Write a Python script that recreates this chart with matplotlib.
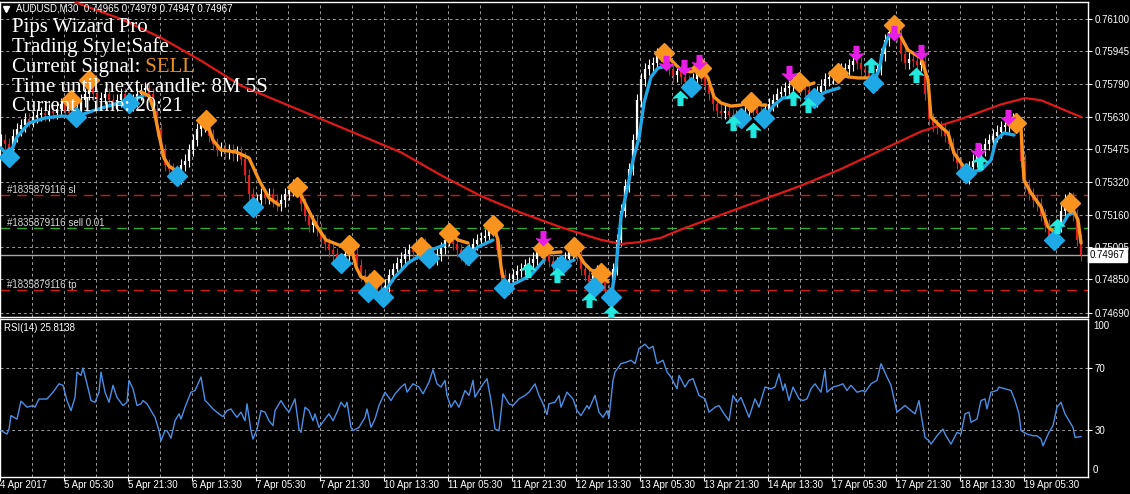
import numpy as np
import matplotlib.pyplot as plt
from matplotlib.path import Path
from matplotlib.transforms import blended_transform_factory

plt.rcParams['font.family'] = ['Liberation Sans', 'DejaVu Sans']

# ---------------- data ----------------
# AUDUSD M30 closes, one value every 2 bars starting 4 Apr 13:30
close = [
    0.7552, 0.7550, 0.7546, 0.7554, 0.7557, 0.7559, 0.7562, 0.7561, 0.7563, 0.7564,
    0.7565, 0.7564, 0.7566, 0.7565, 0.7567, 0.7569, 0.7566, 0.7565, 0.7563, 0.7566,
    0.7571, 0.7574, 0.7577, 0.7574, 0.7571, 0.7572, 0.7574, 0.7571, 0.7569, 0.7571,
    0.7574, 0.7571, 0.7569, 0.7571, 0.7574, 0.7576, 0.7577, 0.7574, 0.7566, 0.7557,
    0.7547, 0.7540, 0.7538, 0.7537, 0.7534, 0.7540, 0.7542, 0.7547, 0.7552, 0.7557,
    0.7559, 0.7561, 0.7554, 0.7550, 0.7547, 0.7548, 0.7546, 0.7547, 0.7545, 0.7546,
    0.7543, 0.7535, 0.7526, 0.7521, 0.7523, 0.7526, 0.7524, 0.7526, 0.7523, 0.7521,
    0.7523, 0.7526, 0.7528, 0.7530, 0.7528, 0.7521, 0.7516, 0.7511, 0.7513, 0.7509,
    0.7504, 0.7502, 0.7499, 0.7497, 0.7494, 0.7493, 0.7497, 0.7500, 0.7497, 0.7492,
    0.7487, 0.7485, 0.7482, 0.7484, 0.7480, 0.7479, 0.7482, 0.7487, 0.7490, 0.7493,
    0.7495, 0.7497, 0.7499, 0.7498, 0.7499, 0.7502, 0.7499, 0.7497, 0.7495, 0.7497,
    0.7500, 0.7504, 0.7506, 0.7502, 0.7499, 0.7497, 0.7495, 0.7499, 0.7502, 0.7504,
    0.7505, 0.7506, 0.7509, 0.7510, 0.7499, 0.7487, 0.7481, 0.7485, 0.7487, 0.7489,
    0.7490, 0.7492, 0.7493, 0.7495, 0.7499, 0.7500, 0.7497, 0.7494, 0.7492, 0.7493,
    0.7492, 0.7495, 0.7498, 0.7500, 0.7497, 0.7490, 0.7487, 0.7484, 0.7487, 0.7489,
    0.7485, 0.7480, 0.7476, 0.7490, 0.7504, 0.7518, 0.7530, 0.7538, 0.7552, 0.7571,
    0.7581, 0.7586, 0.7588, 0.7589, 0.7593, 0.7594, 0.7590, 0.7586, 0.7583, 0.7585,
    0.7582, 0.7580, 0.7577, 0.7581, 0.7586, 0.7583, 0.7578, 0.7574, 0.7569, 0.7566,
    0.7565, 0.7566, 0.7564, 0.7563, 0.7561, 0.7563, 0.7566, 0.7569, 0.7567, 0.7565,
    0.7563, 0.7566, 0.7569, 0.7571, 0.7574, 0.7575, 0.7577, 0.7578, 0.7580, 0.7581,
    0.7578, 0.7576, 0.7574, 0.7571, 0.7575, 0.7578, 0.7581, 0.7582, 0.7583, 0.7585,
    0.7586, 0.7586, 0.7588, 0.7590, 0.7589, 0.7586, 0.7585, 0.7582, 0.7579, 0.7586,
    0.7593, 0.7600, 0.7604, 0.7607, 0.7602, 0.7593, 0.7589, 0.7591, 0.7590, 0.7588,
    0.7590, 0.7574, 0.7562, 0.7559, 0.7558, 0.7557, 0.7554, 0.7550, 0.7545, 0.7541,
    0.7538, 0.7534, 0.7539, 0.7542, 0.7545, 0.7547, 0.7550, 0.7552, 0.7554, 0.7556,
    0.7558, 0.7559, 0.7561, 0.7562, 0.7559, 0.7542, 0.7530, 0.7526, 0.7523, 0.7521,
    0.7516, 0.7511, 0.7506, 0.7504, 0.7511, 0.7518, 0.7523, 0.7524, 0.7516, 0.7504,
    0.74967,
]

# moving average (red)
ma_bars = [20, 40, 60, 80, 100, 120, 140, 160, 180, 200, 220, 240, 260, 280, 300,
           310, 320, 330, 340, 360, 380, 400, 420, 440, 460, 480, 500, 512, 520, 540]
ma_vals = [0.7626, 0.7617, 0.7610, 0.7601, 0.7590, 0.7578, 0.7570, 0.7562, 0.7554,
           0.7546, 0.7535, 0.7525, 0.7517, 0.7510, 0.7504, 0.7502, 0.7503, 0.7505,
           0.7509, 0.7516, 0.7523, 0.7530, 0.7538, 0.7547, 0.7556, 0.7562, 0.7569,
           0.7572, 0.7571, 0.7563]

# trend lines (bar, price)
blue_segs = [
    [(0, 0.75481), (4, 0.75438), (8, 0.75534), (14, 0.75601), (22, 0.75625), (30, 0.75634),
     (37, 0.75630), (47, 0.75663), (57, 0.75692), (65, 0.75711), (71, 0.75730)],
    [(191, 0.74766), (193.5, 0.74814), (196.5, 0.74857), (203.5, 0.74929), (208.5, 0.74958),
     (215, 0.74991), (221.5, 0.75015)],
    [(233.5, 0.74967), (238.5, 0.75006), (246, 0.75039)],
    [(251.5, 0.74809), (258.5, 0.74838), (265, 0.74871), (271.5, 0.74943)],
    [(280, 0.74919), (286.5, 0.74943)],
    [(305, 0.74766), (307.5, 0.74910), (310, 0.75150), (313, 0.75279), (316, 0.75423),
     (319, 0.75529), (321.5, 0.75697), (325, 0.75822), (328.5, 0.75865), (331, 0.75870)],
    [(381.5, 0.75625), (386.5, 0.75687), (391, 0.75721), (397.5, 0.75726)],
    [(406.5, 0.75721), (412.5, 0.75750), (419, 0.75769)],
    [(436, 0.75793), (439, 0.75855), (441, 0.75951), (443.5, 0.76014), (446.5, 0.76033)],
    [(482.5, 0.75361), (490, 0.75375), (495, 0.75423), (497.5, 0.75519), (501.5, 0.75553),
     (506.5, 0.75543)],
    [(526.5, 0.75039), (530, 0.75102), (533.5, 0.75159), (536, 0.75169)],
]
orange_segs = [
    [(70, 0.75750), (74, 0.75730), (76.5, 0.75663), (79, 0.75543), (81.5, 0.75433),
     (84, 0.75394), (87, 0.75375)],
    [(102.5, 0.75615), (106, 0.75519), (110, 0.75471), (117.5, 0.75462), (124, 0.75433),
     (129, 0.75327), (134, 0.75241), (139, 0.75207)],
    [(148, 0.75294), (152.5, 0.75207), (157.5, 0.75111), (162.5, 0.75039), (169, 0.75015),
     (173.5, 0.75015)],
    [(175, 0.75015), (177.5, 0.74910), (180, 0.74862), (185, 0.74847)],
    [(224, 0.75073), (228.5, 0.75039), (233.5, 0.75025)],
    [(246, 0.75111), (248.5, 0.75039), (250, 0.74910), (251, 0.74862)],
    [(271, 0.75001), (273.5, 0.74977), (280, 0.74982)],
    [(286.5, 0.75006), (291.5, 0.74929), (295, 0.74895), (298.5, 0.74886), (303.5, 0.74838)],
    [(331.5, 0.75937), (336.5, 0.75889), (340, 0.75855), (345, 0.75846), (350, 0.75865),
     (353.5, 0.75817), (356.5, 0.75726), (360, 0.75697), (365, 0.75682), (370, 0.75687),
     (375, 0.75702), (380, 0.75687), (382.5, 0.75687)],
    [(399, 0.75798), (403.5, 0.75783), (406.5, 0.75793)],
    [(418.5, 0.75841), (423.5, 0.75822), (428.5, 0.75817), (435, 0.75817)],
    [(446.5, 0.76071), (450, 0.76014), (453.5, 0.75951), (460, 0.75913), (463.5, 0.75807),
     (465, 0.75630), (470, 0.75582), (473.5, 0.75553), (476.5, 0.75457), (480, 0.75409),
     (482.5, 0.75375)],
    [(507.5, 0.75601), (510, 0.75582), (511.5, 0.75327), (515, 0.75265), (520, 0.75198),
     (523.5, 0.75102), (526.5, 0.75078)],
    [(534.5, 0.75217), (538.5, 0.75135), (540, 0.75025)],
]

orange_dia_bars = [35, 44, 102.5, 148, 174, 186.5, 210, 224, 246, 271, 286.5, 300,
                   331.5, 350, 375, 399, 418.5, 446.5, 507.5, 534.5]
orange_dia_vals = [0.75711, 0.75807, 0.75615, 0.75294, 0.75015, 0.74847, 0.75006, 0.75073,
                   0.75111, 0.75001, 0.75006, 0.74881, 0.75937, 0.75865, 0.75702, 0.75798,
                   0.75841, 0.76071, 0.75601, 0.75217]
blue_dia_bars = [4, 37.5, 64, 88, 126, 170, 183.5, 191, 214, 233.5, 251.5, 280, 296.5,
                 305, 345, 370, 381.5, 406.5, 436, 482.5, 526.5]
blue_dia_vals = [0.75438, 0.75630, 0.75697, 0.75346, 0.75198, 0.74929, 0.74790, 0.74766,
                 0.74953, 0.74967, 0.74809, 0.74919, 0.74814, 0.74766, 0.75774, 0.75625,
                 0.75625, 0.75721, 0.75793, 0.75361, 0.75039]

sell_arrow_bars = [271, 332.5, 341.5, 349, 394, 427.5, 446.5, 460, 488.5, 503.5]
sell_arrow_vals = [0.75049, 0.75889, 0.75870, 0.75894, 0.75841, 0.75937, 0.76033, 0.75942,
                   0.75471, 0.75630]
buy_arrow_bars = [263.5, 278, 294, 305, 339.5, 366, 376, 396, 403.5, 435, 457.5, 489.5, 528]
buy_arrow_vals = [0.74895, 0.74871, 0.74751, 0.74689, 0.75721, 0.75601, 0.75567, 0.75721,
                  0.75687, 0.75879, 0.75831, 0.75414, 0.75106]

# RSI(14)
rsi_bars = [0, 3, 4, 5, 8, 10, 13, 16, 17, 19, 23, 26, 29, 31, 33, 35, 37, 38, 40, 41,
            43, 45, 47, 49, 50, 52, 54, 56, 58, 61, 63, 64, 66, 68, 70, 71, 73, 75, 77, 79,
            80, 82, 83, 85, 87, 89, 90, 92, 95, 97, 100, 102, 103, 106, 109, 111, 113, 115, 116, 118,
            120, 122, 123, 125, 126, 128, 130, 132, 134, 136, 137, 140, 142, 144, 147, 149, 150, 152, 154, 156,
            157, 159, 162, 164, 166, 168, 170, 172, 173, 175, 176, 179, 182, 183, 185, 187, 189, 192, 195, 197,
            200, 202, 203, 206, 209, 211, 214, 216, 218, 220, 222, 223, 225, 227, 229, 232, 234, 236, 237, 240,
            243, 245, 247, 249, 251, 254, 256, 259, 262, 264, 267, 269, 271, 273, 274, 277, 279, 280, 283, 286,
            288, 290, 293, 294, 297, 299, 301, 303, 304, 306, 307, 310, 313, 315, 317, 319, 322, 324, 326, 328,
            331, 333, 335, 338, 339, 342, 344, 346, 349, 352, 354, 357, 359, 361, 364, 366, 368, 370, 372, 374,
            377, 379, 382, 385, 387, 389, 391, 392, 394, 396, 399, 401, 403, 405, 407, 410, 412, 413, 416, 419,
            421, 423, 425, 428, 431, 432, 435, 438, 440, 443, 445, 448, 452, 454, 457, 459, 460, 462, 464, 465,
            468, 471, 472, 475, 478, 480, 482, 484, 485, 488, 490, 492, 493, 495, 498, 499, 502, 505, 507, 509,
            510, 513, 516, 518, 520, 521, 524, 526, 528, 530, 532, 533, 536, 537, 540]
rsi_vals = [29.6, 27.4, 30.6, 39.3, 37.0, 48.6, 44.7, 45.8, 44.7, 50.0, 50.0, 54.4, 59.8, 58.8, 49.0, 42.5, 51.0, 67.4, 65.2, 70.0,
            59.8, 49.0, 47.9, 54.4, 67.4, 54.4, 47.9, 58.8, 51.0, 45.8, 47.9, 62.0, 56.6, 45.8, 46.9, 49.0, 46.9, 42.5, 38.2, 29.6,
            23.1, 29.6, 29.6, 24.8, 36.0, 40.4, 37.1, 44.7, 54.4, 55.5, 64.2, 49.0, 47.9, 43.6, 40.4, 38.6, 42.5, 43.6, 41.5, 38.2,
            41.5, 36.0, 46.9, 29.6, 24.2, 30.6, 42.5, 41.5, 36.0, 32.8, 42.5, 49.0, 44.7, 41.5, 50.1, 30.6, 28.5, 44.7, 42.5, 36.0,
            40.4, 31.7, 37.1, 40.4, 36.0, 41.5, 47.9, 44.7, 47.9, 31.7, 29.6, 31.7, 38.2, 43.6, 31.7, 37.1, 45.8, 54.4, 49.0, 53.3,
            57.7, 59.8, 54.4, 59.8, 57.7, 53.3, 60.9, 68.9, 59.8, 57.7, 62.0, 52.3, 44.7, 49.0, 44.7, 55.5, 52.3, 62.0, 51.2, 57.7,
            63.1, 49.0, 30.6, 29.6, 53.3, 46.9, 45.8, 50.1, 52.3, 54.4, 59.8, 52.3, 46.9, 40.0, 46.9, 47.9, 52.3, 44.7, 54.4, 50.0,
            42.5, 39.3, 45.8, 43.6, 52.3, 41.5, 38.2, 42.5, 37.8, 62.0, 67.4, 72.8, 73.9, 75.0, 72.8, 82.5, 85.4, 82.5, 84.0, 72.8,
            75.0, 67.4, 64.2, 56.6, 65.2, 57.7, 62.0, 63.1, 52.3, 50.1, 41.5, 44.7, 45.8, 41.5, 36.0, 52.3, 47.9, 51.0, 44.7, 38.2,
            50.1, 44.7, 57.7, 56.6, 57.7, 66.3, 55.5, 59.8, 49.0, 57.7, 50.1, 49.0, 50.1, 56.6, 59.8, 54.4, 68.5, 54.4, 57.7, 58.8,
            59.8, 55.5, 58.8, 54.4, 55.5, 54.4, 59.8, 62.0, 72.8, 64.2, 58.8, 41.5, 45.8, 43.6, 40.4, 49.0, 40.4, 25.2, 23.1, 20.9,
            26.3, 30.6, 27.4, 20.9, 28.5, 27.4, 40.4, 41.5, 35.0, 37.1, 49.0, 50.1, 43.6, 54.4, 55.5, 57.7, 56.6, 55.5, 49.0, 40.4,
            29.6, 27.4, 26.3, 26.3, 24.2, 19.8, 28.5, 32.8, 44.7, 47.9, 40.4, 38.2, 31.7, 25.2, 25.8]

price_ticks = [0.76100, 0.75945, 0.75790, 0.75630, 0.75475, 0.75320, 0.75160, 0.75005,
               0.74850, 0.74690]
x_label_bars = [0, 32, 64, 96, 128, 160, 192, 224, 256, 288, 320, 352, 384, 416, 448, 480, 512]
x_label_text = ['4 Apr 2017', '5 Apr 05:30', '5 Apr 21:30', '6 Apr 13:30', '7 Apr 05:30',
                '7 Apr 21:30', '10 Apr 13:30', '11 Apr 05:30', '11 Apr 21:30', '12 Apr 13:30',
                '13 Apr 05:30', '13 Apr 21:30', '14 Apr 13:30', '17 Apr 05:30', '17 Apr 21:30',
                '18 Apr 13:30', '19 Apr 05:30']

bid = 0.74967
sl_price, entry_price, tp_price = 0.75255, 0.75097, 0.74800
order_id = '#1835879116'

# ---------------- styling ----------------
BULL = '#ffffff'
BEAR = '#dc2020'
ORANGE = '#f7931e'
BLUE = '#1fa8e6'
GRIDC = '#9a9a9a'
SERIF = ['Liberation Serif', 'DejaVu Serif']

fig = plt.figure(figsize=(11.3, 4.94), dpi=100, facecolor='black')
W, H = 1130.0, 494.0
ax = fig.add_axes([0, 1 - 317 / H, 1088 / W, 315 / H], facecolor='black')
ax2 = fig.add_axes([0, 1 - 477 / H, 1088 / W, 158 / H], facecolor='black')

xlim = (-0.5, 543.5)
for a in (ax, ax2):
    a.set_xlim(*xlim)
    for s in a.spines.values():
        s.set_color('white')
        s.set_linewidth(1)
    for gx in np.arange(15.5, 543, 16):
        a.axvline(gx, color=GRIDC, lw=0.7, ls=(0, (3, 3)), zorder=0)

ax.set_ylim(0.746696, 0.761816)

# horizontal grid at price labels
for p in price_ticks:
    ax.axhline(p, color=GRIDC, lw=0.7, ls=(0, (3, 3)), zorder=0)

# candles (every 2 bars)
bars = np.arange(len(close)) * 2
wick = 0.0003
for i, c in enumerate(close):
    o = close[i - 1] if i > 0 else c
    col = BULL if c >= o else BEAR
    lo, hi = min(o, c), max(o, c)
    ax.vlines(bars[i], lo - wick, hi + wick, color=col, lw=0.8, zorder=2)
    ax.vlines(bars[i], lo, max(hi, lo + 0.00004), color=col, lw=1.6, zorder=2)

# order lines
ax.axhline(sl_price, color='#d01818', lw=1, ls=(0, (7, 5)), zorder=1)
ax.axhline(entry_price, color='#2fa82f', lw=1, ls=(0, (7, 5)), zorder=1)
ax.axhline(tp_price, color='#d01818', lw=1, ls=(0, (7, 5)), zorder=1)
ax.axhline(bid, color='#a8a8a8', lw=1, zorder=1)
tb = blended_transform_factory(ax.transAxes, ax.transData)
for txt, p in [(order_id + ' sl', sl_price), (order_id + ' sell 0.01', entry_price),
               (order_id + ' tp', tp_price)]:
    ax.text(7 / 1088, p, txt, transform=tb, fontsize=7, color='#d8d8d8', va='bottom',
            ha='left', zorder=6)

# moving average
ax.plot(ma_bars, ma_vals, color='#e01818', lw=1.6, zorder=3)

# trend lines
for seg in blue_segs:
    xs, ys = zip(*seg)
    ax.plot(xs, ys, color=BLUE, lw=2.4, solid_capstyle='round', zorder=4)
for seg in orange_segs:
    xs, ys = zip(*seg)
    ax.plot(xs, ys, color=ORANGE, lw=2.4, solid_capstyle='round', zorder=4)

ax.plot(orange_dia_bars, orange_dia_vals, 'D', color=ORANGE, ms=10.5, mec=ORANGE, zorder=5)
ax.plot(blue_dia_bars, blue_dia_vals, 'D', color=BLUE, ms=10.5, mec=BLUE, zorder=5)

up = Path([(0, 0.5), (0.5, 0.02), (0.17, 0.1), (0.17, -0.5), (-0.17, -0.5),
           (-0.17, 0.1), (-0.5, 0.02), (0, 0.5)],
          [Path.MOVETO] + [Path.LINETO] * 6 + [Path.CLOSEPOLY])
down = Path(up.vertices * [1, -1], up.codes)
ax.plot(buy_arrow_bars, buy_arrow_vals, ls='none', marker=up, ms=10, color='#22e8e0',
        mec='#22e8e0', zorder=6)
ax.plot(sell_arrow_bars, sell_arrow_vals, ls='none', marker=down, ms=10, color='#e61ee6',
        mec='#e61ee6', zorder=6)

# price axis
ax.yaxis.tick_right()
ax.set_yticks(price_ticks)
ax.set_yticklabels(['%.5f' % p for p in price_ticks])
ax.tick_params(axis='y', colors='white', labelsize=7, length=3, pad=2)
ax.tick_params(axis='x', bottom=False, labelbottom=False)
ax.text(1 + 2 / 1088, bid, '%.5f' % bid, transform=tb, fontsize=7, color='black',
        va='center', ha='left', zorder=10, clip_on=False,
        bbox=dict(boxstyle='square,pad=0.2', fc='white', ec='white'))

# header and indicator info
ax.plot([6 / 1088], [0.978], marker='v', ms=4, color='white', transform=ax.transAxes,
        clip_on=False, zorder=8)
ax.text(16 / 1088, 0.978, 'AUDUSD,M30  0.74965 0.74979 0.74947 0.74967', transform=ax.transAxes,
        fontsize=7, color='white', va='center', ha='left', zorder=8)
info = ['Pips Wizard Pro', 'Trading Style:Safe', 'Current Signal:',
        'Time until next candle: 8M 5S', 'Current Time: 20:21']
info_base = [31.7, 51.7, 71.7, 91.7, 111.0]
for txt, yb in zip(info, info_base):
    t = ax.text(11.7 / 1088, 1 - (yb - 2) / 315, txt, transform=ax.transAxes,
                family=SERIF, fontsize=15, color='white', va='baseline', ha='left', zorder=9)
    if txt.startswith('Current Signal'):
        ax.annotate(' SELL', xy=(1, 0), xycoords=t, family=SERIF, fontsize=15,
                    color='#e8921e', va='bottom', ha='left', zorder=9)

# ---------------- RSI ----------------
ax2.set_ylim(-0.3, 101.6)
for lv in (70, 30):
    ax2.axhline(lv, color=GRIDC, lw=0.7, ls=(0, (3, 3)), zorder=0)
ax2.plot(rsi_bars, rsi_vals, color='#4a8fe6', lw=1, zorder=3)
ax2.yaxis.tick_right()
ax2.set_yticks([70, 30])
ax2.set_yticklabels(['70', '30'])
ax2.tick_params(axis='y', colors='white', labelsize=7, length=3, pad=2)
tb2 = blended_transform_factory(ax2.transAxes, ax2.transData)
ax2.text(1 + 5 / 1088, 97.1, '100', transform=tb2, fontsize=7, color='white', va='center')
ax2.text(1 + 5 / 1088, 4.2, '0', transform=tb2, fontsize=7, color='white', va='center')
ax2.text(4 / 1088, 0.943, 'RSI(14) 25.8138', transform=ax2.transAxes, fontsize=7,
         color='white', va='center', ha='left')

ax2.set_xticks([b - 0.5 for b in x_label_bars])
ax2.set_xticklabels(x_label_text, ha='left')
ax2.tick_params(axis='x', colors='white', labelsize=7, length=3, pad=-1)

fig.savefig('out.png', dpi=100, facecolor='black')
